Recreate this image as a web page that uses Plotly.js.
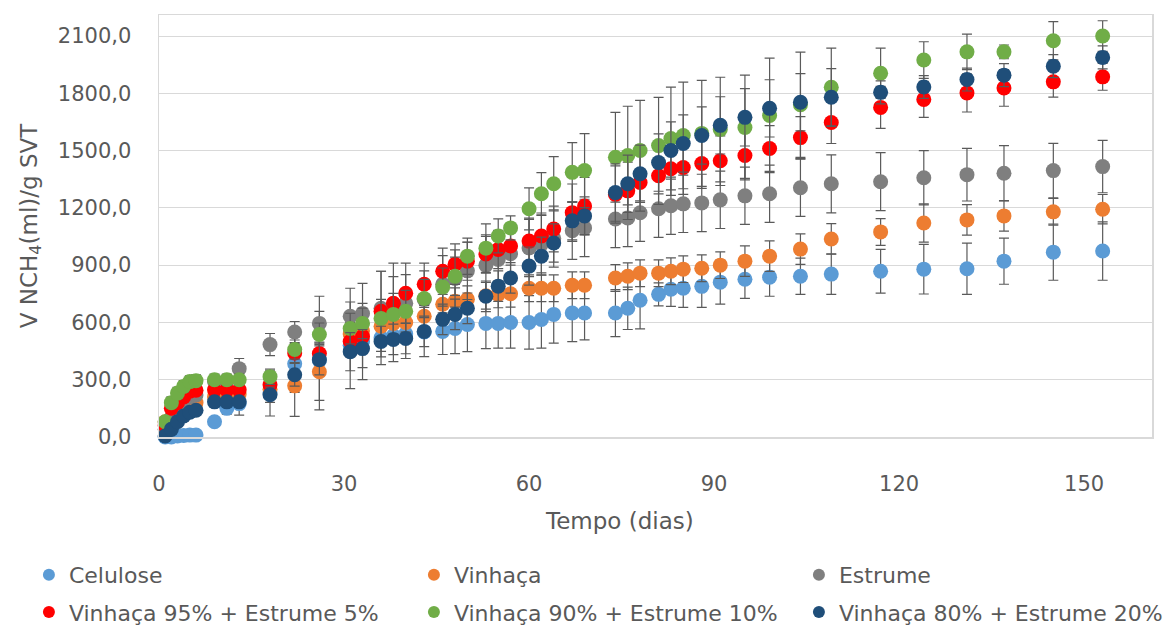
<!DOCTYPE html>
<html><head><meta charset="utf-8">
<script src="https://cdn.plot.ly/plotly-3.0.1.min.js"></script>
<style>html,body{margin:0;padding:0;background:#fff}#chart{width:1175px;height:630px}</style>
</head><body><div id="chart"></div>
<script>
const days = [1,2,3,4,5,6,9,11,13,18,22,26,31,33,36,38,40,43,46,48,50,53,55,57,60,62,64,67,69,74,76,78,81,83,85,88,91,95,99,104,109,117,124,131,137,145,153];

const celulose    = [0,0,5,8,10,10, 80,150,175, 230,384,400, 480,500, 520,530,540, 550, 553,568,589, 595,595,600, 600,615,642, 649,649, 649,674,716, 747,774,779, 789,811, 826,837,842,853, 868,879,881,921,968,974];
const celuloseErr = [5,5,5,5,5,5, 20,30,60, 120,150,258, 227,200, 141,135,129, 129, 121,131,142, 132,130,135, 140,150,150, 150,140, 123,111,150, 60,90,100, 110,115, 100,100,95,106, 115,130,134,121,147,153];

const vinhaca    = [80,100,130,150,170,180, 210,220,225, 250,268,342, 540,555, 580,595,600, 632, 695,711,721, 740,747,750, 779,779,779, 795,795, 833,842,858, 858,868,879, 884,900, 921,947,984,1037, 1074,1121,1137,1158,1179,1193];
const vinhacaErr = [10,10,10,10,10,10, 20,20,20, 40,160,150, 60,60, 60,60,60, 60, 70,70,70, 70,70,70, 70,70,70, 70,70, 70,70,70, 70,70,70, 70,70, 80,80,80,80, 70,100,80,80,70,77];

const estrume    = [40,100,150,190,210,220, 290,295,358, 484,550,595, 632,647, 674,690,700, 720, 800,830,870, 900,930,960, 990,1010,1040, 1080,1095, 1142,1147,1174, 1195,1211,1221, 1226,1242, 1263,1274,1305,1326, 1337,1358,1374,1381,1395,1416];
const estrumeErr = [20,20,20,20,20,20, 30,30,53, 58,55,142, 147,158, 194,150,150, 150, 150,150,150, 150,150,150, 150,150,150, 150,150, 150,150,150, 150,150,150, 150,150, 150,150,150,152, 152,142,138,145,143,137];

const v95e5    = [60,150,180,210,240,245, 247,247,247, 274,440,437, 500,526, 658,700,753, 800, 868,905,921, 958,982,1000, 1026,1053,1089, 1175,1210, 1270,1289,1333, 1368,1405,1411, 1432,1447, 1474,1511,1568,1647, 1726,1768,1802,1828,1860,1886];
const v95e5Err = [20,20,20,20,20,20, 30,30,30, 40,50,60, 80,80, 210,211,158, 111, 121,106,100, 100,100,100, 120,120,120, 150,150, 150,150,150, 150,140,140, 130,130, 120,120,110,110, 110,94,100,96,80,70];

const v90e10    = [80,180,230,265,290,295, 300,300,300, 316,458,537, 568,595, 621,642,658, 725, 785,842,947, 989,1053,1095, 1195,1274,1326, 1386,1395, 1465,1474,1500, 1526,1563,1579, 1590,1610, 1621,1684,1740,1832, 1905,1974,2017,2017,2075,2100];
const v90e10Err = [20,30,30,30,30,30, 30,30,30, 40,50,60, 80,80, 100,110,110, 100, 100,100,95, 127,89,63, 110,110,142, 156,194, 235,258,263, 253,269,279, 278,274, 274,300,276,205, 132,96,93,36,100,80];

const v80e20    = [5,40,80,110,130,140, 184,184,184, 221,326,405, 447,463, 500,511,516, 553, 616,642,674, 737,790,833, 895,947,1016, 1132,1158, 1280,1326,1379, 1437,1500,1537, 1579,1632, 1674,1721,1753,1779, 1805,1833,1872,1895,1942,1988];
const v80e20Err = [10,10,10,10,10,10, 20,20,20, 40,60,80, 100,100, 80,80,80, 80, 80,80,80, 80,80,80, 100,100,100, 100,100, 150,150,150, 150,150,150, 150,150, 150,150,150,150, 60,60,60,60,60,60];

const seriesNames = ["Celulose","Vinhaça","Estrume","Vinhaça 95% + Estrume 5%","Vinhaça 90% + Estrume 10%","Vinhaça 80% + Estrume 20%"];
const seriesValues = [celulose, vinhaca, estrume, v95e5, v90e10, v80e20];
const seriesErrors = [celuloseErr, vinhacaErr, estrumeErr, v95e5Err, v90e10Err, v80e20Err];
const seriesColors = ["#5B9BD5","#ED7D31","#7F7F7F","#FF0000","#70AD47","#1F4E79"];

const traces = seriesNames.map((name, i) => ({
  type: 'scatter', mode: 'markers', name: name,
  x: days, y: seriesValues[i],
  marker: {color: seriesColors[i], size: 15},
  error_y: {type: 'data', array: seriesErrors[i], visible: true, color: '#5a5a5a', thickness: 1.2, width: 5},
  legend: i < 3 ? 'legend' : 'legend2',
  cliponaxis: false
}));

const txt = '#595959';
const legendCommon = {orientation: 'h', xanchor: 'left', yanchor: 'middle', entrywidth: 340, entrywidthmode: 'pixels',
  font: {family: 'DejaVu Sans', size: 22, color: txt}, itemsizing: 'constant', bgcolor: 'rgba(0,0,0,0)', traceorder: 'normal'};

const layout = {
  width: 1175, height: 630,
  margin: {l: 159, r: 23, t: 15, b: 193, autoexpand: false},
  paper_bgcolor: '#fff', plot_bgcolor: '#fff',
  separators: ',.',
  font: {family: 'DejaVu Sans', color: txt, size: 21},
  xaxis: {range: [0, 161], tickvals: [0,30,60,90,120,150], showgrid: false, zeroline: false,
    showline: true, mirror: true, linecolor: '#D9D9D9', linewidth: 1.5, ticks: '', ticklabelstandoff: 27,
    tickfont: {size: 21, color: txt}},
  yaxis: {range: [0, 2210], tickvals: [0,300,600,900,1200,1500,1800,2100], tickformat: '.1f',
    showgrid: true, gridcolor: '#D9D9D9', gridwidth: 1, zeroline: false,
    showline: true, mirror: true, linecolor: '#D9D9D9', linewidth: 1.5, ticks: '', ticklabelstandoff: 22,
    tickfont: {size: 21, color: txt},
    title: {text: 'V NCH<sub>4</sub>(ml)/g SVT', font: {size: 23, color: txt}, standoff: 14}},
  showlegend: true,
  legend: Object.assign({}, legendCommon, {x: -0.131, y: -0.327}),
  legend2: Object.assign({}, legendCommon, {x: -0.131, y: -0.415}),
  annotations: [{text: 'Tempo (dias)', xref: 'paper', yref: 'paper', x: (619-159)/993, y: (437-521)/422,
    xanchor: 'center', yanchor: 'middle', showarrow: false, font: {size: 23, color: txt}}]
};

Plotly.newPlot('chart', traces, layout, {displayModeBar: false, staticPlot: true});
</script></body></html>
